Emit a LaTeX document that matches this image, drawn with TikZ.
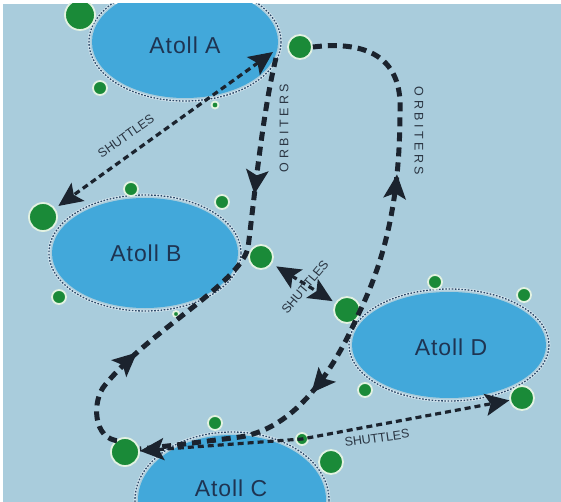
\documentclass[tikz,border=0pt]{standalone}
\usepackage{fontspec}
\setmainfont{Liberation Sans}
\newfontfamily\atollfont[LetterSpace=4]{Liberation Sans}
\newfontfamily\orbfont[LetterSpace=28]{Liberation Sans}
\usetikzlibrary{shapes.geometric, arrows.meta, decorations.markings}
\definecolor{bg}{HTML}{A9CCDC}
\definecolor{lagoon}{HTML}{42A8DA}
\definecolor{reefring}{HTML}{2E4A6A}
\definecolor{reeflight}{HTML}{D4E6EF}
\definecolor{isle}{HTML}{1A8A38}
\definecolor{isleedge}{HTML}{E2F2E2}
\definecolor{route}{HTML}{1B232E}
\definecolor{lbl}{HTML}{2A3542}
\definecolor{atolltext}{HTML}{1E3452}
\begin{document}
\begin{tikzpicture}[x=1pt,y=-1pt,
  >={Stealth[length=24pt,width=22pt,inset=5pt]},
  atoll/.style={ellipse, fill=lagoon, inner sep=0pt, text=atolltext,
    font=\atollfont\fontsize{23}{23}\selectfont},
  atolllbl/.style={text=atolltext, font=\atollfont\fontsize{23}{23}\selectfont},
  reef/.style={draw=reefring, line width=1.3pt, dash pattern=on 1.6pt off 1.6pt,
    preaction={draw=reeflight, line width=2.6pt, solid}},
  isle/.style={circle, fill=isle, draw=isleedge, line width=1.8pt, inner sep=0pt, minimum size=#1},
  orbit/.style={draw=route, line width=5pt, dash pattern=on 9pt off 6pt},
  shuttle/.style={draw=route, line width=3.2pt, dash pattern=on 6pt off 4pt},
  shutlbl/.style={text=lbl, font=\fontsize{12.5}{12.5}\selectfont, inner sep=0pt},
  orblbl/.style={text=lbl, font=\orbfont\fontsize{12.5}{12.5}\selectfont, inner sep=0pt}
]
\useasboundingbox (0,0) rectangle (561,502);
\fill[white] (0,0) rectangle (561,502);
\clip (3,4) rectangle (561,502);
\fill[bg] (3,4) rectangle (561,502);

% atolls
\node[atoll, minimum width=186pt, minimum height=112pt] (A) at (185,42) {};
\node[atoll, minimum width=186pt, minimum height=110pt] (B) at (145,253) {};
\node[atoll, minimum width=194pt, minimum height=106pt] (D) at (449,345) {};
\node[atoll, minimum width=188pt, minimum height=130pt] (C) at (232,500) {};
\draw[reef] (A.center) ellipse[x radius=96, y radius=59];
\draw[reef] (B.center) ellipse[x radius=96, y radius=58];
\draw[reef] (D.center) ellipse[x radius=100, y radius=56];
\draw[reef] (C.center) ellipse[x radius=97, y radius=68];
\node[atolllbl] (tA) at (185,45) {Atoll A};
\node[atolllbl] (tB) at (146,253) {Atoll B};
\node[atolllbl] (tD) at (451,347) {Atoll D};
\node[atolllbl] (tC) at (231,488) {Atoll C};

% islets
\node[isle=30pt] (i1) at (80,15) {};
\node[isle=24pt] (i2) at (300,47) {};
\node[isle=14pt] (i3) at (100,88) {};
\node[isle=7pt] (i4) at (215,105) {};
\node[isle=28pt] (i5) at (43,217) {};
\node[isle=14pt] (i6) at (131,189) {};
\node[isle=14pt] (i7) at (222,202) {};
\node[isle=24pt] (i8) at (261,257) {};
\node[isle=14pt] (i9) at (59,297) {};
\node[isle=6pt] (i10) at (176,314) {};
\node[isle=26pt] (i11) at (347,310) {};
\node[isle=14pt] (i12) at (435,282) {};
\node[isle=14pt] (i13) at (524,295) {};
\node[isle=14pt] (i14) at (365,390) {};
\node[isle=24pt] (i15) at (522,398) {};
\node[isle=14pt] (i16) at (215,423) {};
\node[isle=28pt] (i17) at (125,452) {};
\node[isle=12pt] (i18) at (302,439) {};
\node[isle=24pt] (i19) at (331,462) {};

% route way points
\coordinate (la) at (276,58);
\coordinate (lb) at (248,248);
\coordinate (lc) at (105,385);
\coordinate (ld) at (120,441);
\coordinate (ra) at (400,110);
\coordinate (rb) at (358,315);
\coordinate (rc) at (240,437);
\coordinate (rd) at (140,449);
\coordinate (sa) at (273,52);

% orbiter routes
\draw[orbit, postaction={decorate, decoration={markings,
    mark=at position 138pt with {\arrow{>}},
    mark=at position 346pt with {\arrowreversed{>}}}}]
  (la) .. controls (263,110) and (254,200) .. (lb)
       .. controls (238,285) and (150,330) .. (lc)
       .. controls (92,400) and (92,440) .. (ld);
\draw[orbit, postaction={decorate, decoration={markings,
    mark=at position 192pt with {\arrowreversed{>}},
    mark=at position 430pt with {\arrow{>}}}}]
  (i2.east) .. controls (370,40) and (402,60) .. (ra)
       .. controls (400,200) and (385,260) .. (rb)
       .. controls (325,390) and (285,430) .. (rc)
       .. controls (200,442) and (170,446) .. (rd);

% shuttles
\draw[shuttle, <->, shorten >=4pt] (sa) -- (i5);
\draw[shuttle, <->, shorten <=5pt, shorten >=3pt] (i8) -- (i11);
\draw[shuttle, <->] (i17) -- (i18.center) -- (i15);

% labels
\node[shutlbl, rotate=35] (s1) at (126,136) {SHUTTLES};
\node[shutlbl, rotate=50] (s2) at (305,287) {SHUTTLES};
\node[shutlbl, rotate=8] (s3) at (377,438) {SHUTTLES};
\node[orblbl, rotate=90] (o1) at (284,128) {ORBITERS};
\node[orblbl, rotate=-90] (o2) at (419,131) {ORBITERS};
\end{tikzpicture}
\end{document}
